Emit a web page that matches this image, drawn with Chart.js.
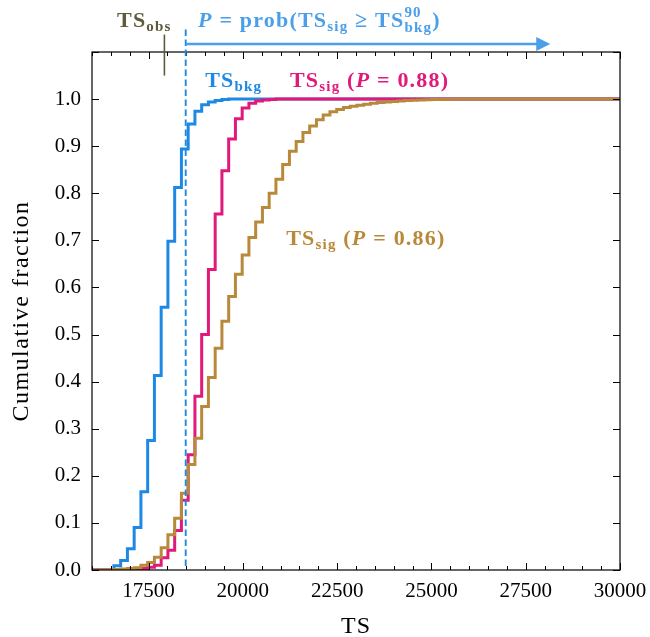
<!DOCTYPE html>
<html>
<head>
<meta charset="utf-8">
<script src="https://cdn.jsdelivr.net/npm/chart.js@4.4.1/dist/chart.umd.min.js"></script>
<style>
  html, body { margin: 0; padding: 0; background: #fff; }
</style>
</head>
<body>
<canvas id="cdfChart" width="650" height="637"></canvas>
<script>
// histogram bin edges (TS), shared by the three cumulative curves
const binEdges = [16000, 16581, 16760, 16939, 17118, 17297, 17476, 17655, 17834, 18013,
    18192, 18371, 18550, 18729, 18908, 19087, 19266, 19445, 19624, 19803,
    19982, 20161, 20340, 20519, 20698, 20877, 21056, 21235, 21414, 21593,
    21772, 21951, 22130, 22309, 22488, 22667, 22846, 23025, 23204, 23383,
    23562, 23741, 23920, 24099, 24278, 24457, 24636, 24815, 24994, 25173,
    25352, 25531, 25710, 30000];

// cumulative fractions at each edge
const bkgCdf = [0, 0.009, 0.020, 0.045, 0.090, 0.166, 0.275, 0.413, 0.558, 0.698,
    0.812, 0.894, 0.947, 0.974, 0.988, 0.994, 0.997, 0.999, 1, 1,
    1, 1, 1, 1, 1, 1, 1, 1, 1, 1,
    1, 1, 1, 1, 1, 1, 1, 1, 1, 1,
    1, 1, 1, 1, 1, 1, 1, 1, 1, 1,
    1, 1, 1, 1];
const sigHighCdf = [0, 0, 0, 0, 0.001, 0.003, 0.006, 0.010, 0.026, 0.042,
    0.084, 0.148, 0.245, 0.369, 0.500, 0.638, 0.756, 0.848, 0.915, 0.958,
    0.981, 0.991, 0.996, 0.998, 0.999, 1, 1, 1, 1, 1,
    1, 1, 1, 1, 1, 1, 1, 1, 1, 1,
    1, 1, 1, 1, 1, 1, 1, 1, 1, 1,
    1, 1, 1, 1];
const sigLowCdf = [0, 0.001, 0.002, 0.003, 0.005, 0.010, 0.016, 0.027, 0.047, 0.075,
    0.110, 0.163, 0.224, 0.280, 0.347, 0.409, 0.471, 0.528, 0.581, 0.628,
    0.669, 0.706, 0.739, 0.770, 0.800, 0.830, 0.861, 0.889, 0.910, 0.929,
    0.943, 0.956, 0.966, 0.973, 0.978, 0.982, 0.985, 0.987, 0.989, 0.991,
    0.993, 0.994, 0.995, 0.996, 0.997, 0.9975, 0.998, 0.9985, 0.999, 0.999,
    0.9995, 0.9995, 1, 1];

const xTickLabels = [17500, 20000, 22500, 25000, 27500, 30000];
const tsObs = 17920;       // observed TS
const tsBkg90 = 18485;     // 90th percentile of background TS
const arrowEnd = 28150;

const SERIF = '"Liberation Serif", "DejaVu Serif", serif';
const BLUE = '#1E88E5';
const PINK = '#E0197A';
const GOLD = '#B8893A';
const LIGHTBLUE = '#4A9FE8';
const OLIVE = '#5E5B3C';

const toPoints = cdf => binEdges.map((x, i) => ({ x: x, y: cdf[i] }));

// draws text made of runs; a run that is an array is stacked (sup + sub)
function drawRich(ctx, x, y, runs, color) {
    ctx.save();
    ctx.fillStyle = color;
    ctx.textAlign = 'left';
    ctx.textBaseline = 'alphabetic';
    ctx.letterSpacing = '1.2px';
    let cx = x;
    runs.forEach(r => {
        const parts = Array.isArray(r) ? r : [r];
        let w = 0;
        parts.forEach(p => {
            ctx.font = (p.italic ? 'italic ' : '') + 'bold ' + p.size + 'px ' + SERIF;
            ctx.fillText(p.t, cx, y + (p.dy || 0));
            w = Math.max(w, ctx.measureText(p.t).width);
        });
        cx += w;
    });
    ctx.restore();
}

const overlayPlugin = {
    id: 'overlay',
    afterDraw(chart) {
        const ctx = chart.ctx;
        const a = chart.chartArea;
        const xs = chart.scales.x;
        const ys = chart.scales.y;
        ctx.save();

        // frame
        ctx.strokeStyle = '#000';
        ctx.lineWidth = 1.2;
        ctx.strokeRect(a.left, a.top, a.right - a.left, a.bottom - a.top);

        // inward ticks on all sides
        ctx.lineWidth = 1;
        ctx.beginPath();
        xs.ticks.forEach(t => {
            const px = Math.round(xs.getPixelForValue(t.value)) + 0.5;
            const len = t.value % 2500 === 0 ? 7 : 4;
            ctx.moveTo(px, a.bottom); ctx.lineTo(px, a.bottom - len);
            ctx.moveTo(px, a.top); ctx.lineTo(px, a.top + len);
        });
        ys.ticks.forEach(t => {
            const py = Math.round(ys.getPixelForValue(t.value)) + 0.5;
            ctx.moveTo(a.left, py); ctx.lineTo(a.left + 7, py);
            ctx.moveTo(a.right, py); ctx.lineTo(a.right - 7, py);
        });
        ctx.stroke();

        // 90th percentile of background
        const xd = xs.getPixelForValue(tsBkg90);
        ctx.strokeStyle = BLUE;
        ctx.lineWidth = 1.9;
        ctx.setLineDash([6.5, 3.5]);
        ctx.beginPath();
        ctx.moveTo(xd, ys.getPixelForValue(1.148));
        ctx.lineTo(xd, a.bottom);
        ctx.stroke();
        ctx.setLineDash([]);

        // observed TS marker
        const xo = xs.getPixelForValue(tsObs);
        ctx.strokeStyle = OLIVE;
        ctx.lineWidth = 1.6;
        ctx.beginPath();
        ctx.moveTo(xo, ys.getPixelForValue(1.137));
        ctx.lineTo(xo, ys.getPixelForValue(1.05));
        ctx.stroke();

        // arrow
        const ya = ys.getPixelForValue(1.117);
        const xe = xs.getPixelForValue(arrowEnd);
        ctx.strokeStyle = LIGHTBLUE;
        ctx.fillStyle = LIGHTBLUE;
        ctx.lineWidth = 2.5;
        ctx.beginPath();
        ctx.moveTo(xd, ya);
        ctx.lineTo(xe - 10, ya);
        ctx.stroke();
        ctx.beginPath();
        ctx.moveTo(xe, ya);
        ctx.lineTo(xe - 14, ya - 7);
        ctx.lineTo(xe - 14, ya + 7);
        ctx.closePath();
        ctx.fill();

        // labels
        const S = 22, s = 15;
        drawRich(ctx, xs.getPixelForValue(16663), ys.getPixelForValue(1.153), [
            { t: 'TS', size: S },
            { t: 'obs', size: s, dy: 4 }
        ], OLIVE);
        drawRich(ctx, xs.getPixelForValue(18812), ys.getPixelForValue(1.153), [
            { t: 'P', size: S, italic: true },
            { t: ' = prob(TS', size: S },
            { t: 'sig', size: s, dy: 4 },
            { t: ' \u2265 TS', size: S },
            [{ t: '90', size: s, dy: -10 }, { t: 'bkg', size: s, dy: 5 }],
            { t: ')', size: S }
        ], LIGHTBLUE);
        drawRich(ctx, xs.getPixelForValue(19000), ys.getPixelForValue(1.026), [
            { t: 'TS', size: S },
            { t: 'bkg', size: s, dy: 4 }
        ], BLUE);
        drawRich(ctx, xs.getPixelForValue(21250), ys.getPixelForValue(1.026), [
            { t: 'TS', size: S },
            { t: 'sig', size: s, dy: 4 },
            { t: ' (', size: S },
            { t: 'P', size: S, italic: true },
            { t: ' = 0.88)', size: S }
        ], PINK);
        drawRich(ctx, xs.getPixelForValue(21150), ys.getPixelForValue(0.691), [
            { t: 'TS', size: S },
            { t: 'sig', size: s, dy: 4 },
            { t: ' (', size: S },
            { t: 'P', size: S, italic: true },
            { t: ' = 0.86)', size: S }
        ], GOLD);

        // axis titles
        ctx.fillStyle = '#000';
        ctx.font = '24px ' + SERIF;
        ctx.textAlign = 'center';
        ctx.textBaseline = 'middle';
        ctx.letterSpacing = '1px';
        ctx.fillText('TS', (a.left + a.right) / 2, 627);
        ctx.translate(22, (a.top + a.bottom) / 2);
        ctx.rotate(-Math.PI / 2);
        ctx.letterSpacing = '1.5px';
        ctx.fillText('Cumulative fraction', 0, 0);

        ctx.restore();
    }
};

const cdfCtx = document.getElementById('cdfChart').getContext('2d');
const cdfChart = new Chart(cdfCtx, {
    type: 'line',
    data: {
        datasets: [
            { label: 'TS_bkg', data: toPoints(bkgCdf), borderColor: BLUE, order: 3 },
            { label: 'TS_sig (P = 0.88)', data: toPoints(sigHighCdf), borderColor: PINK, order: 2 },
            { label: 'TS_sig (P = 0.86)', data: toPoints(sigLowCdf), borderColor: GOLD, order: 1 }
        ]
    },
    options: {
        responsive: false,
        animation: false,
        devicePixelRatio: 1,
        layout: { padding: { top: 52, right: 30, left: 0, bottom: 0 } },
        elements: {
            line: { borderWidth: 3, stepped: 'before', fill: false, tension: 0 },
            point: { radius: 0, hoverRadius: 0 }
        },
        plugins: {
            legend: { display: false },
            tooltip: { enabled: false }
        },
        scales: {
            x: {
                type: 'linear',
                min: 16000,
                max: 30000,
                afterFit: s => { s.height = 67; s.paddingRight = 0; s.paddingLeft = 0; },
                grid: { display: false, drawTicks: false },
                border: { display: false },
                ticks: {
                    stepSize: 500,
                    autoSkip: false,
                    maxRotation: 0,
                    padding: 9,
                    color: '#000',
                    font: { family: SERIF, size: 21 },
                    callback: v => xTickLabels.includes(v) ? String(v) : ''
                }
            },
            y: {
                min: 0,
                max: 1.1,
                afterFit: s => { s.width = 92; },
                grid: { display: false, drawTicks: false },
                border: { display: false },
                ticks: {
                    stepSize: 0.1,
                    padding: 11,
                    color: '#000',
                    font: { family: SERIF, size: 21 },
                    callback: v => v > 1.05 ? '' : v.toFixed(1)
                }
            }
        }
    },
    plugins: [overlayPlugin]
});
</script>
</body>
</html>
